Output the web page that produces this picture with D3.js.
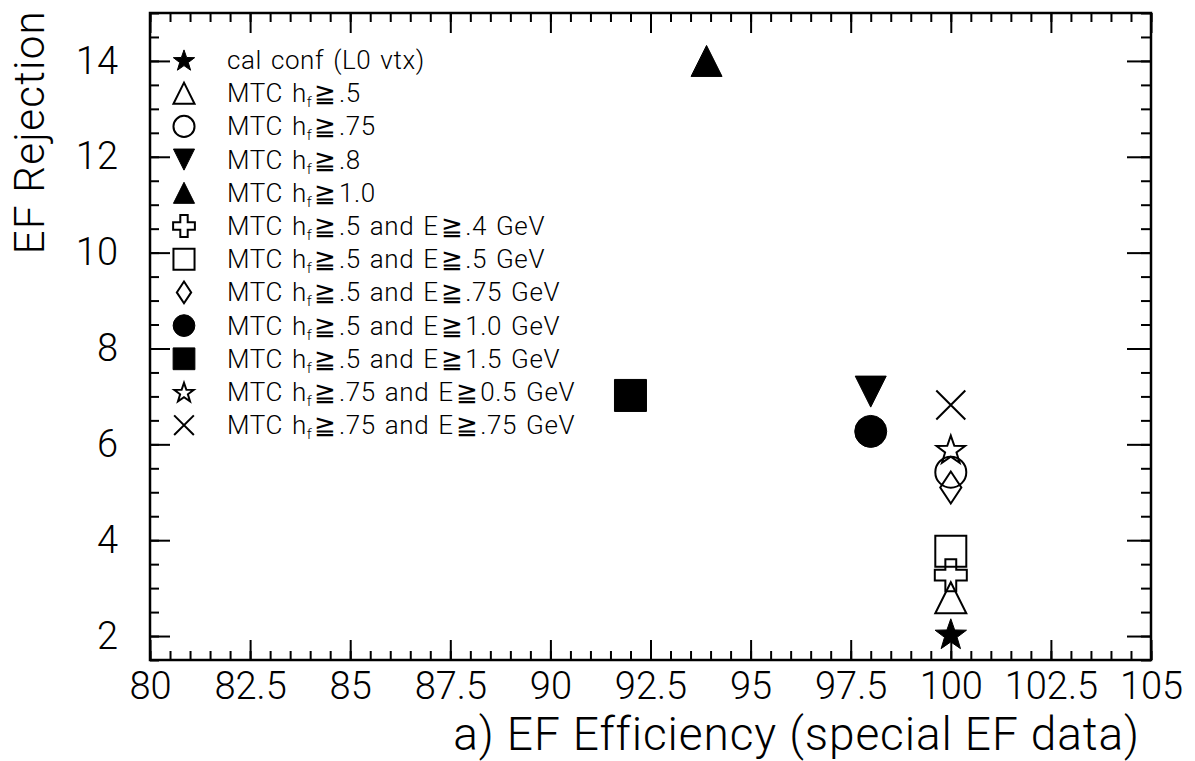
<!DOCTYPE html>
<html>
<head>
<meta charset="utf-8">
<script src="https://cdn.jsdelivr.net/npm/d3@7"></script>
<style>
  body { margin: 0; background: #fff; }
  svg { display: block; }
  text { font-family: Roboto, "Liberation Sans", Arial, sans-serif; font-weight: 300; fill: #000; }
</style>
</head>
<body>
<svg id="chart" width="1195" height="761"></svg>
<script>
// Selection cuts: one entry per cut, in legend order
const cutLabels = [
  "cal conf (L0 vtx)",
  "MTC h_f≧.5",
  "MTC h_f≧.75",
  "MTC h_f≧.8",
  "MTC h_f≧1.0",
  "MTC h_f≧.5 and E≧.4 GeV",
  "MTC h_f≧.5 and E≧.5 GeV",
  "MTC h_f≧.5 and E≧.75 GeV",
  "MTC h_f≧.5 and E≧1.0 GeV",
  "MTC h_f≧.5 and E≧1.5 GeV",
  "MTC h_f≧.75 and E≧0.5 GeV",
  "MTC h_f≧.75 and E≧.75 GeV"
];
const cutMarkers = [
  "starFilled", "triangleOpen", "circleOpen", "triangleDownFilled",
  "triangleFilled", "plusOpen", "squareOpen", "diamondOpen",
  "circleFilled", "squareFilled", "starOpen", "times"
];
// EF efficiency (%) and EF rejection for each cut
const efEfficiency = [100, 100, 100, 98, 93.9, 100, 100, 100, 98, 92, 100, 100];
const efRejection  = [2.05, 2.8, 5.42, 7.1, 14.0, 3.27, 3.77, 5.1, 6.27, 7.02, 5.9, 6.82];

const xTickValues = [80, 82.5, 85, 87.5, 90, 92.5, 95, 97.5, 100, 102.5, 105];
const yTickValues = [2, 4, 6, 8, 10, 12, 14];

const svg = d3.select("#chart");
const frame = { left: 150, right: 1151, top: 13, bottom: 660 };

const x = d3.scaleLinear().domain([80, 105]).range([frame.left, frame.right]);
const y = d3.scaleLinear().domain([1.5, 15]).range([frame.bottom, frame.top]);

// ---- marker shapes (size = full width in px) ----
function shape(draw) { return { draw }; }
const shapes = {
  triangle: shape((c, w) => { const h = w; c.moveTo(0, -h / 2); c.lineTo(w / 2, h / 2); c.lineTo(-w / 2, h / 2); c.closePath(); }),
  triangleDown: shape((c, w) => { const h = w; c.moveTo(0, h / 2); c.lineTo(w / 2, -h / 2); c.lineTo(-w / 2, -h / 2); c.closePath(); }),
  square: shape((c, w) => { c.rect(-w / 2, -w / 2, w, w); }),
  circle: shape((c, w) => { c.moveTo(w / 2, 0); c.arc(0, 0, w / 2, 0, 2 * Math.PI); c.closePath(); }),
  diamond: shape((c, w) => { const hw = w * 0.33; c.moveTo(0, -w / 2); c.lineTo(hw, 0); c.lineTo(0, w / 2); c.lineTo(-hw, 0); c.closePath(); }),
  plus: shape((c, w) => {
    const a = w * 0.17, b = w / 2;
    c.moveTo(-a, -b); c.lineTo(a, -b); c.lineTo(a, -a); c.lineTo(b, -a); c.lineTo(b, a);
    c.lineTo(a, a); c.lineTo(a, b); c.lineTo(-a, b); c.lineTo(-a, a); c.lineTo(-b, a);
    c.lineTo(-b, -a); c.lineTo(-a, -a); c.closePath();
  }),
  star: shape((c, w) => {
    const R = w / 2, r = R * 0.4;
    for (let i = 0; i < 10; i++) {
      const rad = i % 2 === 0 ? R : r;
      const ang = -Math.PI / 2 + i * Math.PI / 5;
      const px = rad * Math.cos(ang), py = rad * Math.sin(ang) + R * 0.1;
      if (i === 0) c.moveTo(px, py); else c.lineTo(px, py);
    }
    c.closePath();
  }),
  times: shape((c, w) => { const h = w / 2; c.moveTo(-h, -h); c.lineTo(h, h); c.moveTo(h, -h); c.lineTo(-h, h); })
};
const markerStyle = {
  starFilled:         { shape: "star",         filled: true,  w: 33 },
  triangleOpen:       { shape: "triangle",     filled: false, w: 31 },
  circleOpen:         { shape: "circle",       filled: false, w: 31 },
  triangleDownFilled: { shape: "triangleDown", filled: true,  w: 31 },
  triangleFilled:     { shape: "triangle",     filled: true,  w: 31 },
  plusOpen:           { shape: "plus",         filled: false, w: 32 },
  squareOpen:         { shape: "square",       filled: false, w: 31 },
  diamondOpen:        { shape: "diamond",      filled: false, w: 32 },
  circleFilled:       { shape: "circle",       filled: true,  w: 32 },
  squareFilled:       { shape: "square",       filled: true,  w: 32 },
  starOpen:           { shape: "star",         filled: false, w: 30 },
  times:              { shape: "times",        filled: false, w: 29 }
};
function drawMarker(sel, kind, scale) {
  const st = markerStyle[kind];
  sel.append("path")
    .attr("d", d3.symbol().type(shapes[st.shape]).size(st.w * scale)())
    .attr("fill", st.filled ? "#000" : "none")
    .attr("stroke", "#000")
    .attr("stroke-width", st.filled ? 1 : 2)
    .attr("stroke-linejoin", "miter");
}

// ---- axes: inward ticks on all four sides, minor every 0.5 ----
const xMinor = d3.range(80, 105.001, 0.5);
const yMinor = d3.range(1.5, 15.001, 0.5);
const tickFont = "38px";

function styleAxis(g) {
  g.select(".domain").remove();
  g.selectAll(".tick line").attr("stroke", "#000").attr("stroke-width", 2);
}

svg.append("g").attr("transform", `translate(0,${frame.bottom})`)
  .call(d3.axisBottom(x).tickValues(xMinor).tickSize(-9).tickFormat(""))
  .call(styleAxis);
svg.append("g").attr("transform", `translate(0,${frame.bottom})`)
  .call(d3.axisBottom(x).tickValues(xTickValues).tickSize(-20).tickPadding(12)
    .tickFormat(d => String(d)))
  .call(styleAxis)
  .call(g => g.selectAll("text").style("font-size", tickFont).attr("fill", "#000"));

svg.append("g").attr("transform", `translate(0,${frame.top})`)
  .call(d3.axisTop(x).tickValues(xMinor).tickSize(-9).tickFormat(""))
  .call(styleAxis);
svg.append("g").attr("transform", `translate(0,${frame.top})`)
  .call(d3.axisTop(x).tickValues(xTickValues).tickSize(-20).tickFormat(""))
  .call(styleAxis);

svg.append("g").attr("transform", `translate(${frame.left},0)`)
  .call(d3.axisLeft(y).tickValues(yMinor).tickSize(-9).tickFormat(""))
  .call(styleAxis);
svg.append("g").attr("transform", `translate(${frame.left},0)`)
  .call(d3.axisLeft(y).tickValues(yTickValues).tickSize(-20).tickPadding(32)
    .tickFormat(d => String(d)))
  .call(styleAxis)
  .call(g => g.selectAll("text").style("font-size", tickFont).attr("fill", "#000"));

svg.append("g").attr("transform", `translate(${frame.right},0)`)
  .call(d3.axisRight(y).tickValues(yMinor).tickSize(-10).tickFormat(""))
  .call(styleAxis);
svg.append("g").attr("transform", `translate(${frame.right},0)`)
  .call(d3.axisRight(y).tickValues(yTickValues).tickSize(-24).tickFormat(""))
  .call(styleAxis);

// frame
svg.append("rect")
  .attr("x", frame.left).attr("y", frame.top)
  .attr("width", frame.right - frame.left).attr("height", frame.bottom - frame.top)
  .attr("fill", "none").attr("stroke", "#000").attr("stroke-width", 2.5);

// axis titles
svg.append("text")
  .attr("x", 1140).attr("y", 750)
  .attr("text-anchor", "end")
  .style("font-size", "46px")
  .style("letter-spacing", "0.9px")
  .text("a) EF Efficiency (special EF data)");
svg.append("text")
  .attr("transform", "translate(44,10) rotate(-90)")
  .attr("text-anchor", "end")
  .style("font-size", "42px")
  .style("letter-spacing", "1.3px")
  .text("EF Rejection");

// ---- data points ----
const points = svg.append("g");
efEfficiency.forEach((e, i) => {
  const g = points.append("g").attr("transform", `translate(${x(e)},${y(efRejection[i])})`);
  drawMarker(g, cutMarkers[i], 1);
});

// ---- legend ----
const legend = svg.append("g");
cutLabels.forEach((label, i) => {
  const rowY = 60 + i * 33.2;
  const m = legend.append("g").attr("transform", `translate(184,${rowY})`);
  drawMarker(m, cutMarkers[i], 0.68);
  const t = legend.append("text")
    .attr("x", 227).attr("y", rowY + 9)
    .style("font-size", "26px")
    .style("letter-spacing", "0.6px")
    .style("word-spacing", "2px");
  // "_f" marks the subscript on h; "≧" gets a little room on both sides
  label.split(/(_f|≧)/).filter(s => s.length).forEach((part, k, arr) => {
    const prev = arr[k - 1];
    const span = t.append("tspan");
    if (part === "_f") {
      span.attr("dy", 5).style("font-size", "15px").text("f");
      return;
    }
    if (prev === "_f") span.attr("dy", -5);
    if (part === "≧" || prev === "≧") span.attr("dx", 2);
    span.text(part === "≧" ? "≧" : part);
  });
});
</script>
</body>
</html>
